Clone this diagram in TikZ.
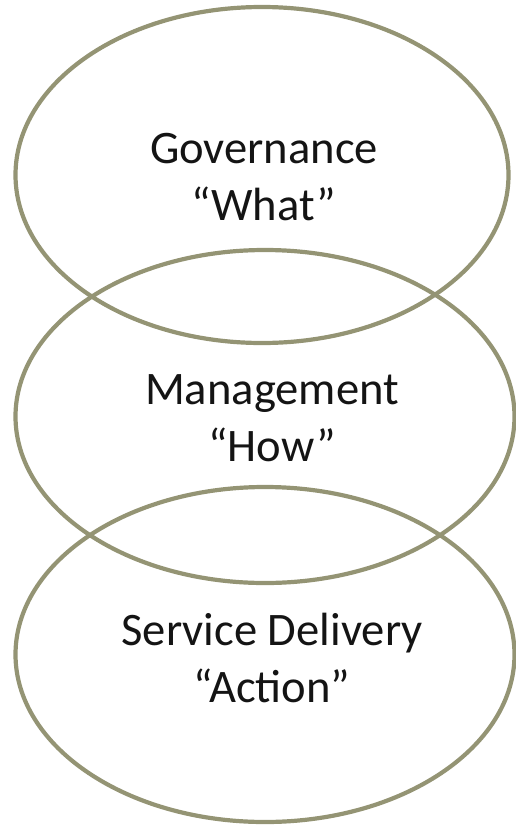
\documentclass[tikz,border=0pt]{standalone}
\usepackage{fontspec}
\setmainfont{Carlito}
\usetikzlibrary{shapes.geometric}
\definecolor{olv}{RGB}{148,148,116}
\begin{document}
\begin{tikzpicture}[x=1pt,y=-1pt,
  ring/.style={draw=olv,line width=4.2pt},
  lbl/.style={font=\fontsize{46.6}{57}\selectfont,align=center,text=black!92,inner sep=0pt}]
\useasboundingbox (0,0) rectangle (516,825);
\draw[ring] (262,175) ellipse [x radius=246.5, y radius=168];
\draw[ring] (265,416.5) ellipse [x radius=249.5, y radius=166.5];
\draw[ring] (265,654.5) ellipse [x radius=249.5, y radius=167.5];
\node[lbl] (gov) at (264,177) {Governance\\“What”};
\node[lbl] (man) at (272,418) {Management\\“How”};
\node[lbl] (ser) at (272,658) {Service Delivery\\“Action”};
\end{tikzpicture}
\end{document}
